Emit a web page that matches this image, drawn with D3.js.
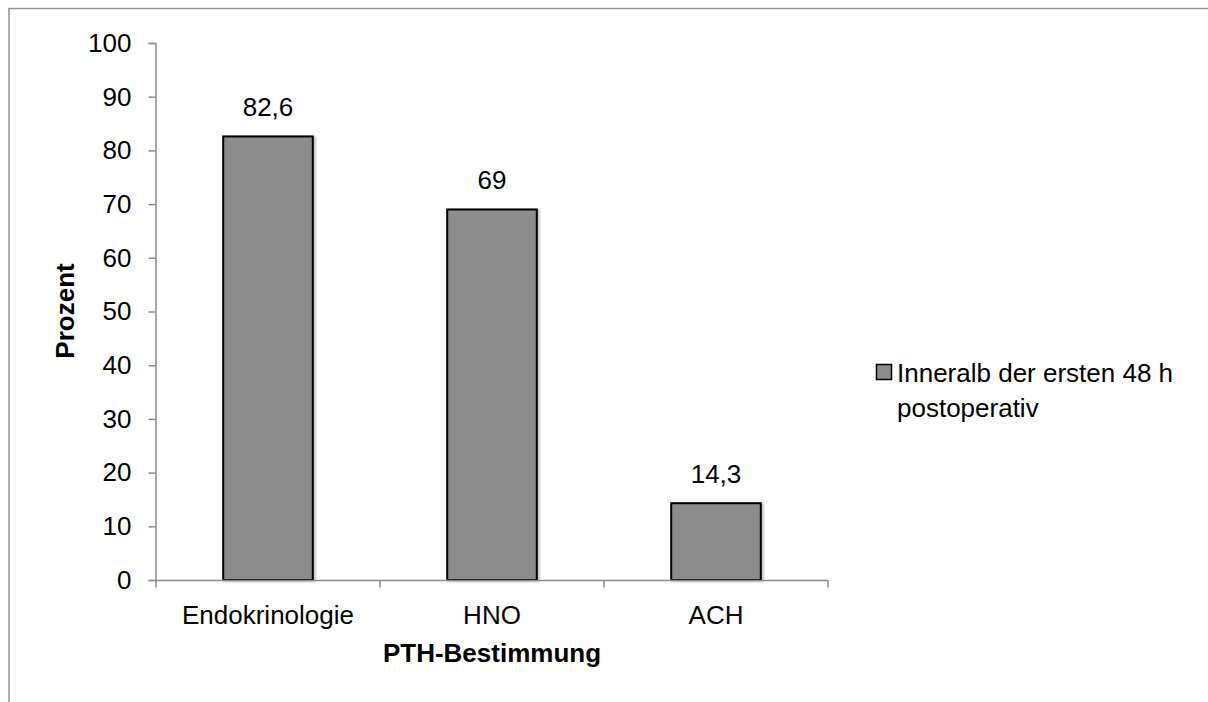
<!DOCTYPE html>
<html>
<head>
<meta charset="utf-8">
<script src="https://cdn.jsdelivr.net/npm/d3@7"></script>
<style>
  html, body { margin: 0; padding: 0; background: #fff; }
  svg { display: block; font-family: "Liberation Sans", Arial, sans-serif; }
</style>
</head>
<body>
<svg id="chart" width="1208" height="702"></svg>
<script>
// Anteil der PTH-Bestimmungen innerhalb der ersten 48 h postoperativ
const categories = ["Endokrinologie", "HNO", "ACH"];
const values = [82.6, 69, 14.3];
const valueLabels = ["82,6", "69", "14,3"];
const yTicks = [0, 10, 20, 30, 40, 50, 60, 70, 80, 90, 100];
const seriesName = ["Inneralb der ersten 48 h", "postoperativ"];

const svg = d3.select("#chart");
const axisColor = "#8a8a8a";
const barFill = "#8c8c8c";
const fontSize = 26;

// frame of the chart area
svg.append("path")
  .attr("d", "M9,702 L9,8.5 L1208,8.5")
  .attr("fill", "none")
  .attr("stroke", "#8f8f8f")
  .attr("stroke-width", 1.5);

const x = d3.scaleBand()
  .domain(categories)
  .range([156, 828])
  .paddingInner(0.6)
  .paddingOuter(0.3);

const y = d3.scaleLinear()
  .domain([0, 100])
  .range([580, 43]);

// soft shadow behind the bars
const defs = svg.append("defs");
const f = defs.append("filter").attr("id", "shadow")
  .attr("x", "-10%").attr("y", "-10%").attr("width", "130%").attr("height", "130%");
f.append("feDropShadow").attr("dx", 2).attr("dy", 1).attr("stdDeviation", 1.2)
  .attr("flood-color", "#000").attr("flood-opacity", 0.25);

// y axis
const yAxis = svg.append("g")
  .attr("transform", "translate(155.5,0)")
  .call(d3.axisLeft(y).tickValues(yTicks).tickSize(7).tickPadding(17).tickFormat(d3.format("d")));
yAxis.select(".domain").attr("stroke", axisColor).attr("stroke-width", 1.5);
yAxis.selectAll(".tick line").attr("stroke", axisColor).attr("stroke-width", 1.5);
yAxis.selectAll(".tick text")
  .attr("font-size", fontSize).attr("fill", "#000")
  .attr("font-family", "Liberation Sans, Arial, sans-serif");

// bars
svg.append("g").selectAll("rect")
  .data(categories)
  .join("rect")
  .attr("x", d => x(d))
  .attr("y", (d, i) => y(values[i]))
  .attr("width", x.bandwidth())
  .attr("height", (d, i) => y(0) - y(values[i]))
  .attr("fill", barFill)
  .attr("stroke", "#000")
  .attr("stroke-width", 2)
  .attr("filter", "url(#shadow)");

// x axis with boundary ticks between categories
const xAxis = svg.append("g").attr("transform", "translate(0,580.5)");
xAxis.append("line")
  .attr("x1", 155).attr("x2", 828)
  .attr("stroke", axisColor).attr("stroke-width", 1.5);
const step = x.step();
const bounds = d3.range(categories.length + 1).map(i => x.range()[0] + i * step);
xAxis.selectAll(".bt")
  .data(bounds)
  .join("line")
  .attr("x1", d => d).attr("x2", d => d)
  .attr("y1", 0).attr("y2", 7)
  .attr("stroke", axisColor).attr("stroke-width", 1.5);
xAxis.selectAll(".cat")
  .data(categories)
  .join("text")
  .attr("x", d => x(d) + x.bandwidth() / 2)
  .attr("y", 43)
  .attr("text-anchor", "middle")
  .attr("font-size", fontSize)
  .text(d => d);

// value labels above bars
svg.append("g").selectAll("text")
  .data(categories)
  .join("text")
  .attr("x", d => x(d) + x.bandwidth() / 2)
  .attr("y", (d, i) => y(values[i]) - 20)
  .attr("text-anchor", "middle")
  .attr("font-size", fontSize)
  .text((d, i) => valueLabels[i]);

// axis titles
svg.append("text")
  .attr("transform", "translate(74,311) rotate(-90)")
  .attr("text-anchor", "middle")
  .attr("font-size", fontSize)
  .attr("font-weight", "bold")
  .text("Prozent");

svg.append("text")
  .attr("x", 492).attr("y", 662)
  .attr("text-anchor", "middle")
  .attr("font-size", fontSize)
  .attr("font-weight", "bold")
  .text("PTH-Bestimmung");

// legend
const legend = svg.append("g").attr("transform", "translate(876,364)");
legend.append("rect")
  .attr("x", 0.5).attr("y", 0.5)
  .attr("width", 15).attr("height", 15)
  .attr("fill", barFill).attr("stroke", "#000").attr("stroke-width", 1.5);
legend.selectAll("text")
  .data(seriesName)
  .join("text")
  .attr("x", 21)
  .attr("y", (d, i) => 18 + i * 35)
  .attr("font-size", fontSize)
  .text(d => d);
</script>
</body>
</html>
